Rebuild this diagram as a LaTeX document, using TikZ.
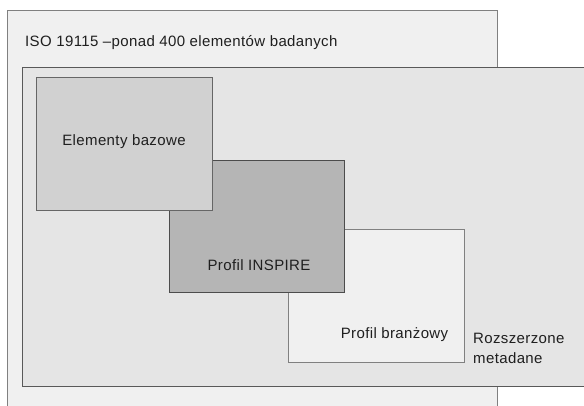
\documentclass[tikz,border=0pt]{standalone}
\usepackage{fontspec}
\setmainfont{Liberation Sans}[LetterSpace=2.5]
\begin{document}
\begin{tikzpicture}[x=1pt,y=-1pt,
  box/.style={draw=#1, rectangle, inner sep=0pt, outer sep=0pt, anchor=north west, line width=0.9pt},
  lbl/.style={text=black!88, font=\fontsize{15}{19.5}\selectfont, inner sep=0pt, anchor=base west}]
\useasboundingbox (0,0) rectangle (584,406);
\clip (0,0) rectangle (584,406);
\fill[white] (0,0) rectangle (584,406);
\node[box=black!50, fill=black!6, minimum width=490pt, minimum height=410pt] (iso) at (7,10.5) {};
\node[lbl] (isot) at (25,47) {ISO 19115 –ponad 400 elementów badanych};
\node[box=black!65, fill=black!10, minimum width=580pt, minimum height=319pt] (roz) at (22,67) {};
\node[box=black!50, fill=black!6, minimum width=176pt, minimum height=133pt] (bran) at (288,229) {};
\node[box=black!70, fill=black!29, minimum width=175pt, minimum height=132pt] (insp) at (169,160) {};
\node[box=black!60, fill=black!18, minimum width=176pt, minimum height=133pt] (baz) at (36,77) {};
\node[lbl, anchor=center] (bazt) at (124,142) {Elementy bazowe};
\node[lbl, anchor=base] (inspt) at (259,271) {Profil INSPIRE};
\node[lbl, anchor=base] (brant) at (394.5,338) {Profil branżowy};
\node[lbl, align=left, anchor=north west] (rozt) at (473,333) {Rozszerzone\\metadane};
\end{tikzpicture}
\end{document}
